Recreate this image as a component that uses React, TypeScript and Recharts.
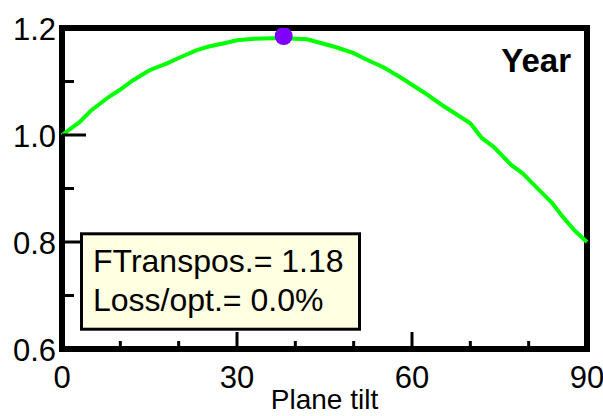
import React from 'react';
import { ComposedChart, Line, Scatter, XAxis, YAxis, ReferenceArea } from 'recharts';

const tiltDeg = [0, 3, 5, 8, 10, 12, 15, 18, 20, 23, 25, 28, 30, 33, 36, 38, 40, 42, 45, 47, 50, 52, 55, 58, 60, 62, 65, 67, 70, 72, 74, 77, 79, 81, 84, 86, 88, 90];
const transposFactor = [1.0, 1.024, 1.046, 1.071, 1.085, 1.101, 1.121, 1.134, 1.144, 1.158, 1.165, 1.172, 1.177, 1.18, 1.181, 1.181, 1.18, 1.179, 1.17, 1.164, 1.153, 1.142, 1.127, 1.108, 1.094, 1.08, 1.057, 1.043, 1.022, 0.994, 0.978, 0.944, 0.928, 0.906, 0.873, 0.845, 0.82, 0.8];
const optimumTilt = [38];
const optimumFactor = [1.185];
const xTicks = [0, 10, 20, 30, 40, 50, 60, 70, 80, 90];
const yTicks = [0.6, 0.7, 0.8, 0.9, 1.0, 1.1, 1.2];
const chartTitle = 'Year';
const xAxisTitle = 'Plane tilt';
const infoLines = ['FTranspos.= 1.18', 'Loss/opt.= 0.0%'];

const curveData = tiltDeg.map((t, i) => ({ tilt: t, f: transposFactor[i] }));
const optData = optimumTilt.map((t, i) => ({ tilt: t, f: optimumFactor[i] }));

const FONT = '"Liberation Sans", Arial, sans-serif';
const W = 603;
const H = 416;

const isMajorX = (v: number) => v % 30 === 0;
const isMajorY = (v: number) => Math.round(v * 10) % 2 === 0;

const BottomTick = (p: any) => {
  const v = p.payload.value;
  const major = isMajorX(v);
  return (
    <g>
      <line x1={p.x} x2={p.x} y1={p.y} y2={p.y - (major ? 17 : 8)} stroke="#000" strokeWidth={3} />
      {major && (
        <text x={p.x} y={p.y + 39} textAnchor="middle" fontFamily={FONT} fontSize={31} fill="#000">
          {v}
        </text>
      )}
    </g>
  );
};

const TopTick = (p: any) => {
  const v = p.payload.value;
  const major = isMajorX(v);
  return <line x1={p.x} x2={p.x} y1={p.y} y2={p.y + (major ? 20 : 9)} stroke="#000" strokeWidth={3} />;
};

const LeftTick = (p: any) => {
  const v = p.payload.value;
  const major = isMajorY(v);
  return (
    <g>
      <line x1={p.x} x2={p.x + (major ? 24 : 12)} y1={p.y} y2={p.y} stroke="#000" strokeWidth={3} />
      {major && (
        <text x={p.x - 6} y={p.y + 11.5} textAnchor="end" fontFamily={FONT} fontSize={31} fill="#000">
          {v.toFixed(1)}
        </text>
      )}
    </g>
  );
};

const RightTick = (p: any) => {
  const v = p.payload.value;
  const major = isMajorY(v);
  return <line x1={p.x} x2={p.x - (major ? 18 : 7)} y1={p.y} y2={p.y} stroke="#000" strokeWidth={3} />;
};

export default function App() {
  return (
    <div style={{ position: 'absolute', left: 0, top: 0, width: W, height: H, background: '#fff' }}>
      <ComposedChart
        width={W}
        height={H}
        data={curveData}
        margin={{ top: 28, right: 16, left: 0, bottom: 0 }}
      >
        <XAxis
          xAxisId="bottom"
          dataKey="tilt"
          type="number"
          domain={[0, 90]}
          ticks={xTicks}
          interval={0}
          height={67}
          tickSize={0}
          tickMargin={0}
          axisLine={false}
          tickLine={false}
          tick={<BottomTick />}
        />
        <XAxis
          xAxisId="top"
          orientation="top"
          dataKey="tilt"
          type="number"
          domain={[0, 90]}
          ticks={xTicks}
          interval={0}
          height={0}
          tickSize={0}
          tickMargin={0}
          axisLine={false}
          tickLine={false}
          tick={<TopTick />}
        />
        <YAxis
          yAxisId="left"
          type="number"
          domain={[0.6, 1.2]}
          ticks={yTicks}
          interval={0}
          width={62}
          tickSize={0}
          tickMargin={0}
          axisLine={false}
          tickLine={false}
          allowDataOverflow
          tick={<LeftTick />}
        />
        <YAxis
          yAxisId="right"
          orientation="right"
          type="number"
          domain={[0.6, 1.2]}
          ticks={yTicks}
          interval={0}
          width={0}
          tickSize={0}
          tickMargin={0}
          axisLine={false}
          tickLine={false}
          allowDataOverflow
          tick={<RightTick />}
        />
        <ReferenceArea
          xAxisId="bottom"
          yAxisId="left"
          x1={0}
          x2={90}
          y1={0.6}
          y2={1.2}
          fill="none"
          fillOpacity={0}
          stroke="#000"
          strokeWidth={6}
          ifOverflow="visible"
        />
        <Line
          xAxisId="bottom"
          yAxisId="left"
          dataKey="f"
          type="linear"
          stroke="#00ff00"
          strokeWidth={4}
          dot={false}
          isAnimationActive={false}
        />
        <Scatter
          xAxisId="bottom"
          yAxisId="left"
          data={optData}
          dataKey="f"
          fill="#8000ff"
          shape={(p: any) => <circle cx={p.cx} cy={p.cy} r={9} fill="#8000ff" />}
          isAnimationActive={false}
        />
      </ComposedChart>
      <svg
        width={W}
        height={H}
        style={{ position: 'absolute', left: 0, top: 0, pointerEvents: 'none' }}
      >
        <text x={571} y={72} textAnchor="end" fontFamily={FONT} fontSize={33} fontWeight="bold" fill="#000">
          {chartTitle}
        </text>
        <rect x={81.5} y={233.8} width={278} height={95.4} fill="#ffffe1" stroke="#000" strokeWidth={3} />
        <text x={93} y={272} fontFamily={FONT} fontSize={32} fill="#000">
          {infoLines[0]}
        </text>
        <text x={93} y={311} fontFamily={FONT} fontSize={32} fill="#000">
          {infoLines[1]}
        </text>
        <text x={324.5} y={409} textAnchor="middle" fontFamily={FONT} fontSize={28} fill="#000">
          {xAxisTitle}
        </text>
      </svg>
    </div>
  );
}
